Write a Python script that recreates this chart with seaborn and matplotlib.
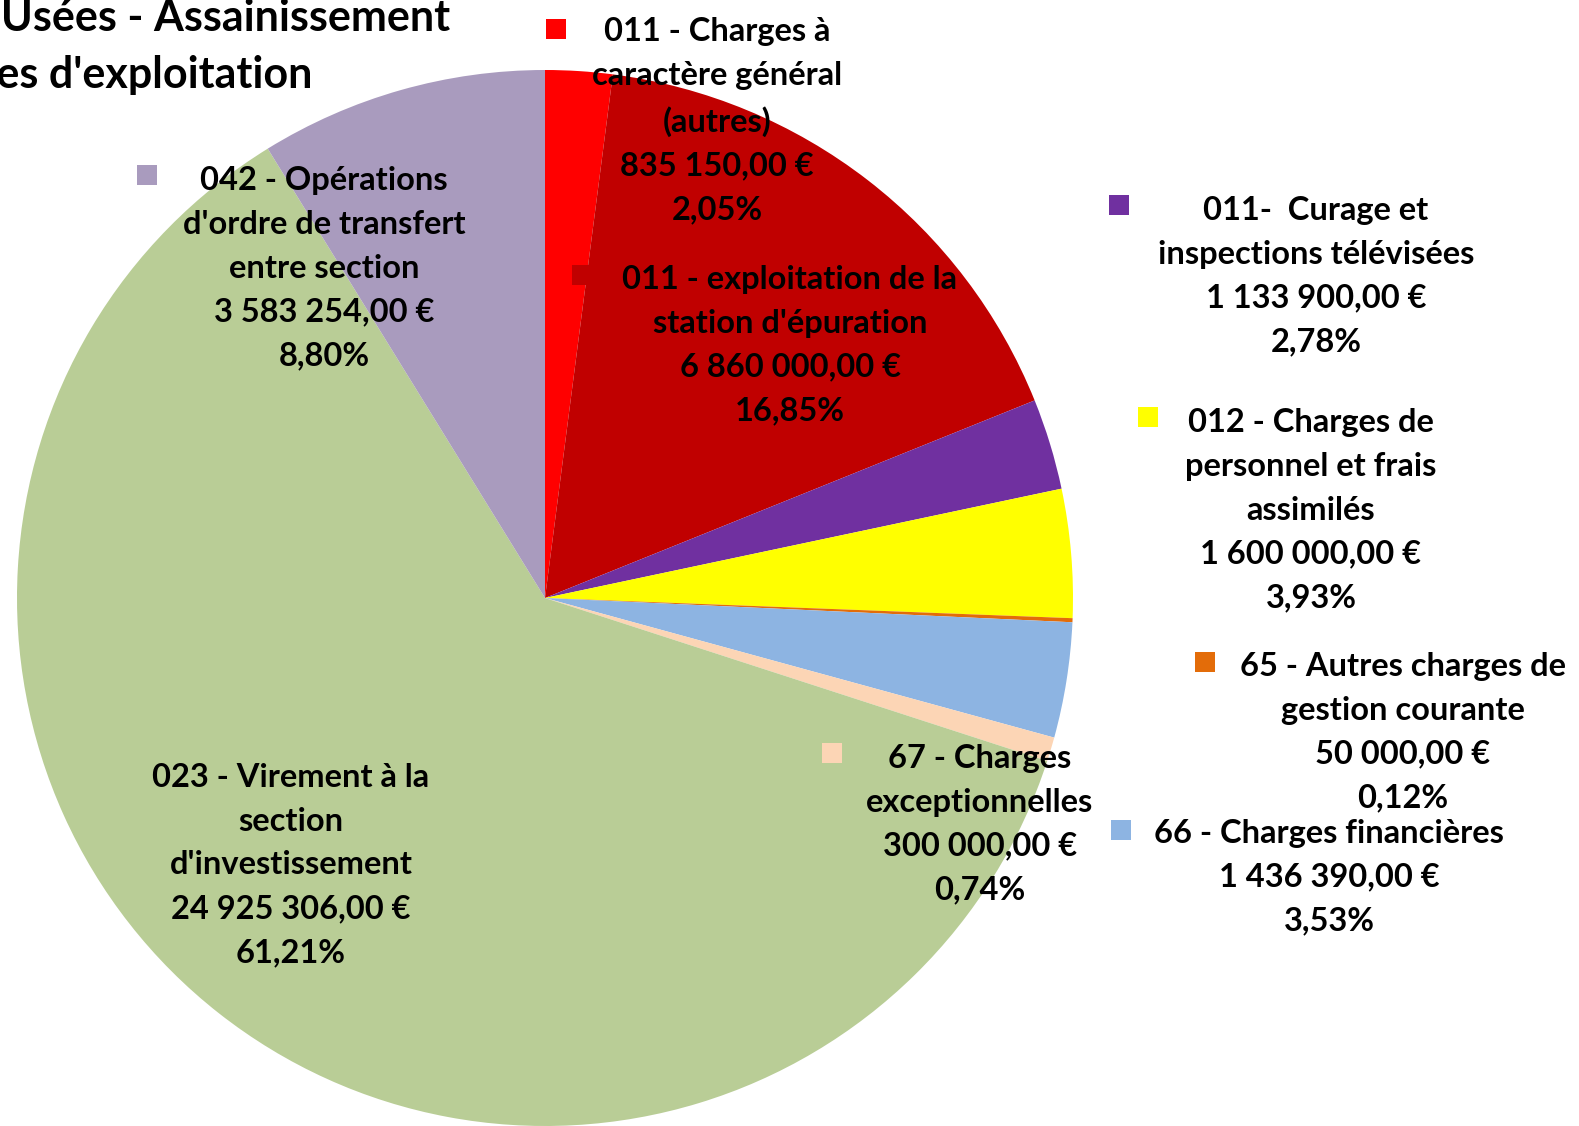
import matplotlib
matplotlib.use("Agg")
import matplotlib.pyplot as plt
from matplotlib.patches import Rectangle
import seaborn as sns

# data
categories = [
    "011 - Charges à\ncaractère général\n(autres)",
    "011 - exploitation de la\nstation d'épuration",
    "011-  Curage et\ninspections télévisées",
    "012 - Charges de\npersonnel et frais\nassimilés",
    "65 - Autres charges de\ngestion courante",
    "66 - Charges financières",
    "67 - Charges\nexceptionnelles",
    "023 - Virement à la\nsection\nd'investissement",
    "042 - Opérations\nd'ordre de transfert\nentre section",
]
amounts = [835150.00, 6860000.00, 1133900.00, 1600000.00, 50000.00,
           1436390.00, 300000.00, 24925306.00, 3583254.00]
colors = ["#FF0000", "#C00000", "#7030A0", "#FFFF00", "#E36C09",
          "#8DB4E2", "#FCD5B5", "#B9CD96", "#A99BBE"]
title_lines = ["Budget Eaux Usées - Assainissement", "Dépenses d'exploitation"]

W, H = 1579, 1126
# label layout (pixel positions, y from top)
label_pos = [(717, 121), (790, 345), (1316, 276), (1311, 510), (1403, 732),
             (1329, 877), (980, 824), (291, 865), (324, 268)]
marker_pos = [(556, 29), (582, 275), (1119, 205), (1148, 417), (1205, 662),
              (1121, 830), (832, 753), (98, 773), (147, 175)]

sns.set_theme(style="white")
plt.rcParams['font.family'] = ['Lato', 'DejaVu Sans']

fig = plt.figure(figsize=(W / 100, H / 100), dpi=100)
ax = fig.add_axes([0, 0, 1, 1])

def fr(v):
    s = f"{v:,.2f}".replace(",", " ").replace(".", ",")
    return s + " €"

total = sum(amounts)
ax.pie(amounts, colors=colors, startangle=90, counterclock=False,
       center=(545, H - 598), radius=528, wedgeprops=dict(linewidth=0))
ax.set_xlim(0, W)
ax.set_ylim(0, H)
ax.set_aspect('equal')
ax.set_axis_off()

for cat, amt, col, (x, y), (mx, my) in zip(categories, amounts, colors, label_pos, marker_pos):
    pct = f"{amt / total * 100:.2f}%".replace(".", ",")
    txt = f"{cat}\n{fr(amt)}\n{pct}"
    ax.text(x, H - y, txt, ha='center', va='center', fontsize=23.5,
            fontweight='bold', color='black', linespacing=1.62)
    ax.add_patch(Rectangle((mx - 10, H - my - 10), 20, 20, color=col, lw=0))

ax.text(450, H - 18, title_lines[0], ha='right', va='center', fontsize=31,
        fontweight='bold', color='black')
ax.text(312, H - 75, title_lines[1], ha='right', va='center', fontsize=31,
        fontweight='bold', color='black')

fig.savefig("out.png", dpi=100)
